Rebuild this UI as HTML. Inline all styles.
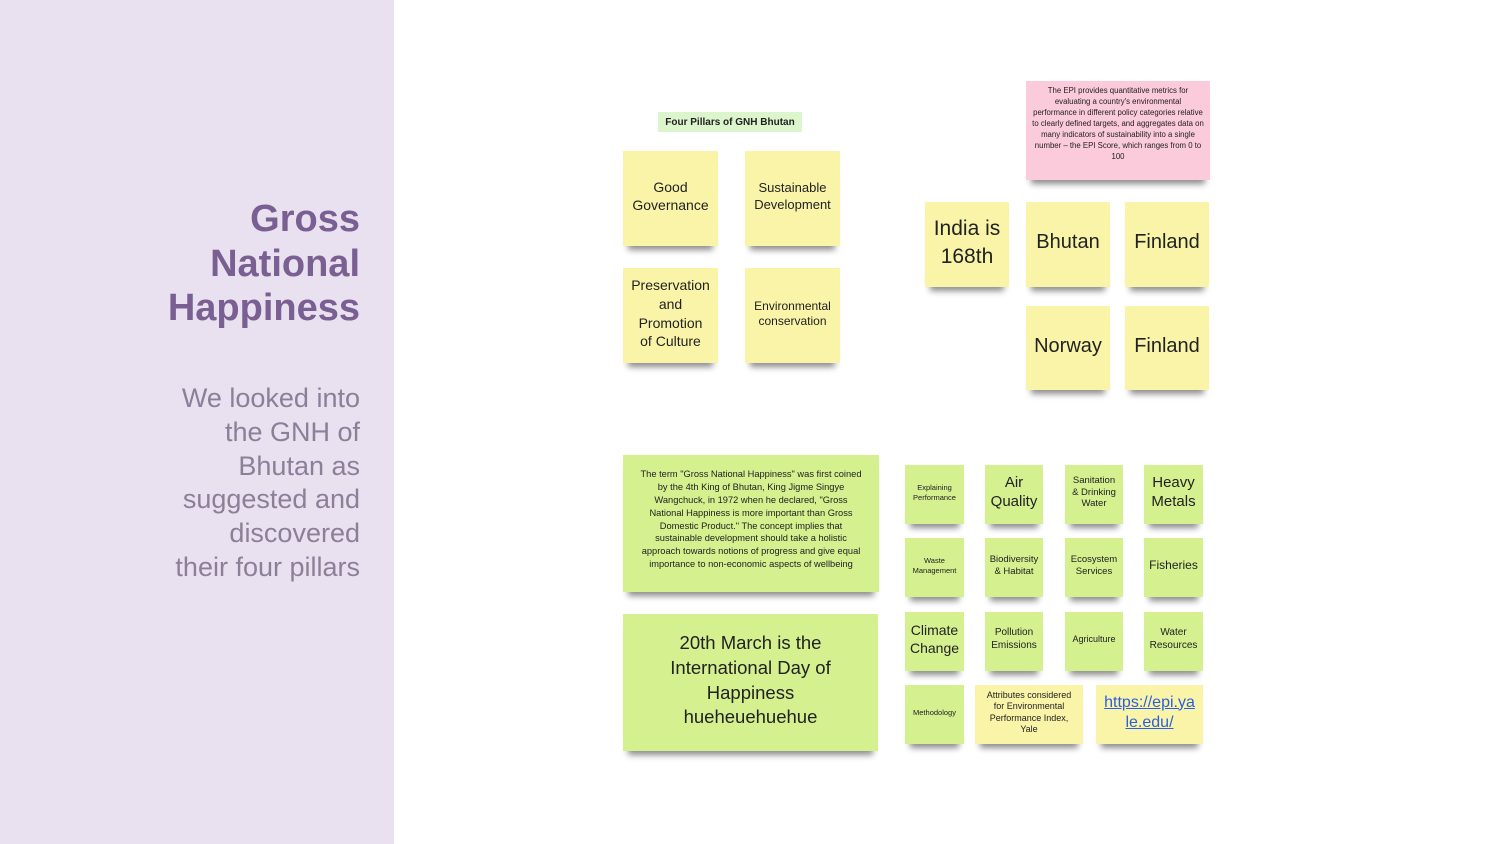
<!DOCTYPE html>
<html><head><style>
*{margin:0;padding:0;box-sizing:border-box}
body{width:1500px;height:844px;position:relative;background:#fff;font-family:"Liberation Sans","DejaVu Sans",sans-serif;overflow:hidden}
#left{position:absolute;left:0;top:0;width:394px;height:844px;background:#e9e0f0}
.t{position:absolute;right:34px;text-align:right;color:#7a5f92;font-weight:bold;font-size:38px;line-height:44.5px;top:197px}
.s{position:absolute;right:34px;text-align:right;color:#8c7f98;font-size:27px;line-height:33.8px;top:382px;font-weight:300}
.n{position:absolute;display:flex;align-items:center;justify-content:center;text-align:center;color:#222;box-shadow:0 9px 6px -5px rgba(0,0,0,.45);line-height:1.25;padding-bottom:4px}
.y{background:#faf4a8}.g{background:#d5f08f}.p{background:#fbcadb}
</style></head><body>
<div id="left">
<div class="t">Gross<br>National<br>Happiness</div>
<div class="s">We looked into<br>the GNH of<br>Bhutan as<br>suggested and<br>discovered<br>their four pillars</div>
</div>

<div style="position:absolute;left:658px;top:112px;width:144px;height:20px;background:#dcf5cc;font-size:10px;font-weight:bold;display:flex;align-items:center;justify-content:center;color:#222">Four Pillars of GNH Bhutan</div>

<div class="n y" style="left:623px;top:151px;width:95px;height:95px;font-size:14px">Good<br>Governance</div>
<div class="n y" style="left:745px;top:151px;width:95px;height:95px;font-size:13px">Sustainable<br>Development</div>
<div class="n y" style="left:623px;top:268px;width:95px;height:95px;font-size:14px;line-height:1.35">Preservation<br>and<br>Promotion<br>of Culture</div>
<div class="n y" style="left:745px;top:268px;width:95px;height:95px;font-size:12px">Environmental<br>conservation</div>

<div class="n p" style="left:1026px;top:81px;width:184px;height:99px;font-size:7.8px;line-height:1.4;padding:0 6px 12px">The EPI provides quantitative metrics for evaluating a country's environmental performance in different policy categories relative to clearly defined targets, and aggregates data on many indicators of sustainability into a single number – the EPI Score, which ranges from 0 to 100</div>

<div class="n y" style="left:925px;top:202px;width:84px;height:85px;font-size:21px;line-height:1.3">India is<br>168th</div>
<div class="n y" style="left:1026px;top:202px;width:84px;height:85px;font-size:20px">Bhutan</div>
<div class="n y" style="left:1125px;top:202px;width:84px;height:85px;font-size:20px">Finland</div>
<div class="n y" style="left:1026px;top:306px;width:84px;height:84px;font-size:20px">Norway</div>
<div class="n y" style="left:1125px;top:306px;width:84px;height:84px;font-size:20px">Finland</div>

<div class="n g" style="left:623px;top:455px;width:256px;height:137px;font-size:9.3px;padding:0 14px 8px;line-height:1.38">The term "Gross National Happiness" was first coined by the 4th King of Bhutan, King Jigme Singye Wangchuck, in 1972 when he declared, "Gross National Happiness is more important than Gross Domestic Product." The concept implies that sustainable development should take a holistic approach towards notions of progress and give equal importance to non-economic aspects of wellbeing</div>
<div class="n g" style="left:623px;top:614px;width:255px;height:137px;font-size:18.5px;line-height:1.35">20th March is the<br>International Day of<br>Happiness<br>hueheuehuehue</div>

<div class="n g" style="left:905px;top:465px;width:59px;height:59px;font-size:7.5px">Explaining<br>Performance</div>
<div class="n g" style="left:985px;top:465px;width:58px;height:59px;font-size:15px">Air<br>Quality</div>
<div class="n g" style="left:1065px;top:465px;width:58px;height:59px;font-size:9.5px">Sanitation<br>&amp; Drinking<br>Water</div>
<div class="n g" style="left:1144px;top:465px;width:59px;height:59px;font-size:15px">Heavy<br>Metals</div>

<div class="n g" style="left:905px;top:538px;width:59px;height:59px;font-size:7.5px">Waste<br>Management</div>
<div class="n g" style="left:985px;top:538px;width:58px;height:59px;font-size:9.5px">Biodiversity<br>&amp; Habitat</div>
<div class="n g" style="left:1065px;top:538px;width:58px;height:59px;font-size:9.5px">Ecosystem<br>Services</div>
<div class="n g" style="left:1144px;top:538px;width:59px;height:59px;font-size:12px">Fisheries</div>

<div class="n g" style="left:905px;top:612px;width:59px;height:59px;font-size:14px">Climate<br>Change</div>
<div class="n g" style="left:985px;top:612px;width:58px;height:59px;font-size:10px">Pollution<br>Emissions</div>
<div class="n g" style="left:1065px;top:612px;width:58px;height:59px;font-size:9px">Agriculture</div>
<div class="n g" style="left:1144px;top:612px;width:59px;height:59px;font-size:10px">Water<br>Resources</div>

<div class="n g" style="left:905px;top:685px;width:59px;height:59px;font-size:7.5px">Methodology</div>
<div class="n y" style="left:975px;top:685px;width:108px;height:59px;font-size:9px">Attributes considered<br>for Environmental<br>Performance Index,<br>Yale</div>
<div class="n y" style="left:1096px;top:685px;width:107px;height:59px;font-size:16px;color:#2b5fe0;text-decoration:underline">https://epi.ya<br>le.edu/</div>
</body></html>
